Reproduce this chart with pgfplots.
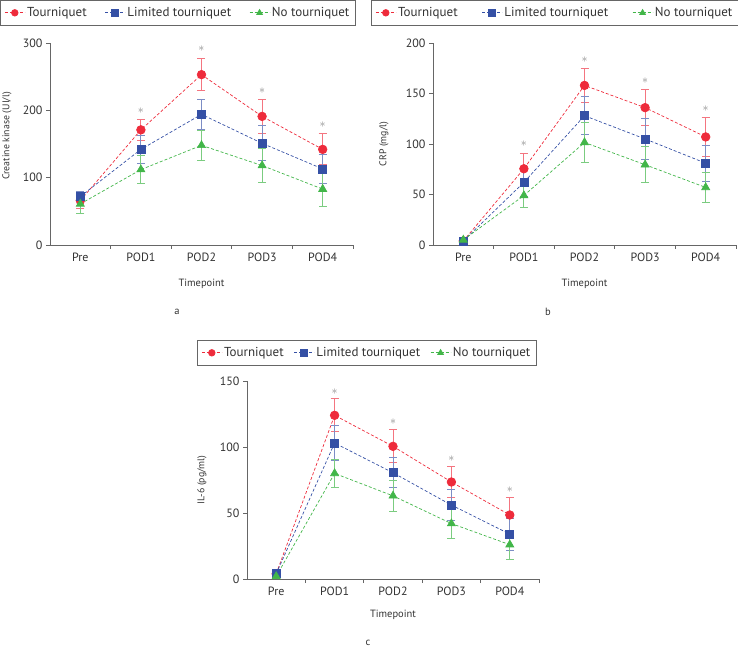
\documentclass[border=0pt]{standalone}
\usepackage{fontspec}
\setmainfont{PT Sans}
\usepackage{pgfplots}
\pgfplotsset{compat=1.18}
\definecolor{cred}{HTML}{EE2B3B}
\definecolor{cblue}{HTML}{3550A5}
\definecolor{cgreen}{HTML}{42B649}
\definecolor{axgray}{HTML}{666666}
\definecolor{txt}{HTML}{333333}
\definecolor{stargray}{HTML}{8A8A8A}

\pgfplotsset{
  base/.style={
    scale only axis,
    axis x line*=bottom, axis y line*=left,
    axis line style={axgray, line width=0.9pt},
    xmin=-0.5, xmax=4.5,
    xtick={0,1,2,3,4},
    xticklabels={Pre,POD1,POD2,POD3,POD4},
    minor xtick={0.5,1.5,2.5,3.5,4.5},
    major x tick style={draw=none},
    minor x tick style={axgray, line width=0.9pt},
    y tick style={axgray, line width=0.9pt},
    tick align=outside,
    major tick length=4pt, minor tick length=4pt,
    /pgf/number format/assume math mode=true,
    tick label style={font=\fontsize{12}{14}\selectfont, text=txt},
    xlabel={Timepoint},
    xlabel style={font=\fontsize{10.5}{12}\selectfont, text=txt, anchor=center},
    ylabel style={font=\fontsize{9.8}{11}\selectfont, text=txt, anchor=center},
    legend columns=3,
    legend style={anchor=north west, draw=axgray, line width=0.9pt,
      font=\fontsize{13}{15}\selectfont, text=txt, inner xsep=4pt, inner ysep=5pt,
      nodes={font=\fontsize{13}{15}\selectfont}},
    legend image code/.code={\draw[mark repeat=2,mark phase=2,##1, mark size=3.3pt] plot coordinates {(0pt,0pt) (10pt,0pt) (20pt,0pt)};},
    clip=false,
  },
  serT/.style={color=cred, dash pattern=on 3pt off 2pt, line width=0.7pt, mark=*, mark size=4.3pt,
    mark options={solid, fill=cred, draw=cred},
    error bars/.cd, y dir=both, y explicit,
    error bar style={solid, cred!65, line width=0.9pt},
    error mark options={rotate=90, solid, cred!65, mark size=4pt, line width=0.9pt}},
  serL/.style={color=cblue, dash pattern=on 3pt off 2pt, line width=0.7pt, mark=square*, mark size=4pt,
    mark options={solid, fill=cblue, draw=cblue},
    error bars/.cd, y dir=both, y explicit,
    error bar style={solid, cblue!65, line width=0.9pt},
    error mark options={rotate=90, solid, cblue!65, mark size=4pt, line width=0.9pt}},
  serN/.style={color=cgreen, dash pattern=on 3pt off 2pt, line width=0.7pt, mark=triangle*, mark size=4.6pt,
    mark options={solid, fill=cgreen, draw=cgreen},
    error bars/.cd, y dir=both, y explicit,
    error bar style={solid, cgreen!70, line width=0.9pt},
    error mark options={rotate=90, solid, cgreen!70, mark size=4pt, line width=0.9pt}},
}

\begin{document}
\begin{tikzpicture}[x=1pt,y=1pt]
\useasboundingbox (0,0) rectangle (738,648);

% ---------- a ----------
\begin{axis}[base, at={(50pt,403pt)}, anchor=south west, width=303pt, height=202pt,
  ymin=0, ymax=300, ytick={0,100,200,300},
  ylabel={Creatine kinase (UI/l)},
  ylabel style={at={(axis description cs:-0.142,0.54)}},
  xlabel style={at={(axis description cs:0.5,-0.193)}},
  legend style={at={(axis description cs:-0.165,1.2129)},
    /tikz/every even column/.append style={column sep=16pt}}]
\addplot[serT] table[x=x,y=y,y error=e] {
x y e
0 66 12
1 171 16
2 253 24
3 191 25
4 142 23
};
\addplot[serL] table[x=x,y=y,y error=e] {
x y e
0 72 8
1 142 21
2 194 22
3 151 26
4 113 21
};
\addplot[serN] table[x=x,y=y,y error=e] {
x y e
0 61 14
1 112 21
2 148 22
3 118 25
4 83 26
};
\legend{Tourniquet, Limited tourniquet, No tourniquet}
\node[text=stargray, font=\fontsize{13}{13}\selectfont] at (axis cs:1,200) {$\ast$};
\node[text=stargray, font=\fontsize{13}{13}\selectfont] at (axis cs:2,291) {$\ast$};
\node[text=stargray, font=\fontsize{13}{13}\selectfont] at (axis cs:3,229) {$\ast$};
\node[text=stargray, font=\fontsize{13}{13}\selectfont] at (axis cs:4,178) {$\ast$};
\end{axis}

% ---------- b ----------
\begin{axis}[base, at={(433pt,403pt)}, anchor=south west, width=303pt, height=202pt,
  ymin=0, ymax=200, ytick={0,50,100,150,200},
  ylabel={CRP (mg/l)},
  ylabel style={at={(axis description cs:-0.162,0.5)}},
  xlabel style={at={(axis description cs:0.5,-0.193)}},
  legend style={at={(axis description cs:-0.2046,1.2129)},
    /tikz/every even column/.append style={column sep=22pt}}]
\addplot[serT] table[x=x,y=y,y error=e] {
x y e
0 4 2
1 75.5 15.5
2 158 17
3 136 18
4 107 19
};
\addplot[serL] table[x=x,y=y,y error=e] {
x y e
0 4 2
1 62 14
2 128 19
3 105 20
4 81 18
};
\addplot[serN] table[x=x,y=y,y error=e] {
x y e
0 5 2
1 49 12
2 101.5 20
3 79.5 18
4 57 15
};
\legend{Tourniquet, Limited tourniquet, No tourniquet}
\node[text=stargray, font=\fontsize{13}{13}\selectfont] at (axis cs:1,100) {$\ast$};
\node[text=stargray, font=\fontsize{13}{13}\selectfont] at (axis cs:2,183.5) {$\ast$};
\node[text=stargray, font=\fontsize{13}{13}\selectfont] at (axis cs:3,163) {$\ast$};
\node[text=stargray, font=\fontsize{13}{13}\selectfont] at (axis cs:4,134.5) {$\ast$};
\end{axis}

% ---------- c ----------
\begin{axis}[base, at={(247pt,69pt)}, anchor=south west, width=292pt, height=198pt,
  ymin=0, ymax=150, ytick={0,50,100,150},
  ylabel={IL-6 (pg/ml)},
  ylabel style={at={(axis description cs:-0.154,0.5)}},
  xlabel style={at={(axis description cs:0.5,-0.182)}},
  legend style={at={(axis description cs:-0.1712,1.2071)},
    /tikz/every even column/.append style={column sep=8pt}}]
\addplot[serT] table[x=x,y=y,y error=e] {
x y e
0 4 2
1 124 12.5
2 100.5 12.5
3 73.5 11.5
4 48.5 13
};
\addplot[serL] table[x=x,y=y,y error=e] {
x y e
0 4 2
1 103 13
2 80.5 11.5
3 56 11.5
4 34 12
};
\addplot[serN] table[x=x,y=y,y error=e] {
x y e
0 2 1.5
1 80 10.5
2 63 12
3 42 11
4 26 11
};
\legend{Tourniquet, Limited tourniquet, No tourniquet}
\node[text=stargray, font=\fontsize{13}{13}\selectfont] at (axis cs:1,142) {$\ast$};
\node[text=stargray, font=\fontsize{13}{13}\selectfont] at (axis cs:2,119.5) {$\ast$};
\node[text=stargray, font=\fontsize{13}{13}\selectfont] at (axis cs:3,91.5) {$\ast$};
\node[text=stargray, font=\fontsize{13}{13}\selectfont] at (axis cs:4,68) {$\ast$};
\end{axis}

\node[font=\fontsize{10.5}{12}\selectfont, text=txt] at (177,336) {a};
\node[font=\fontsize{10.5}{12}\selectfont, text=txt] at (548,336) {b};
\node[font=\fontsize{10.5}{12}\selectfont, text=txt] at (368,5) {c};
\end{tikzpicture}
\end{document}
